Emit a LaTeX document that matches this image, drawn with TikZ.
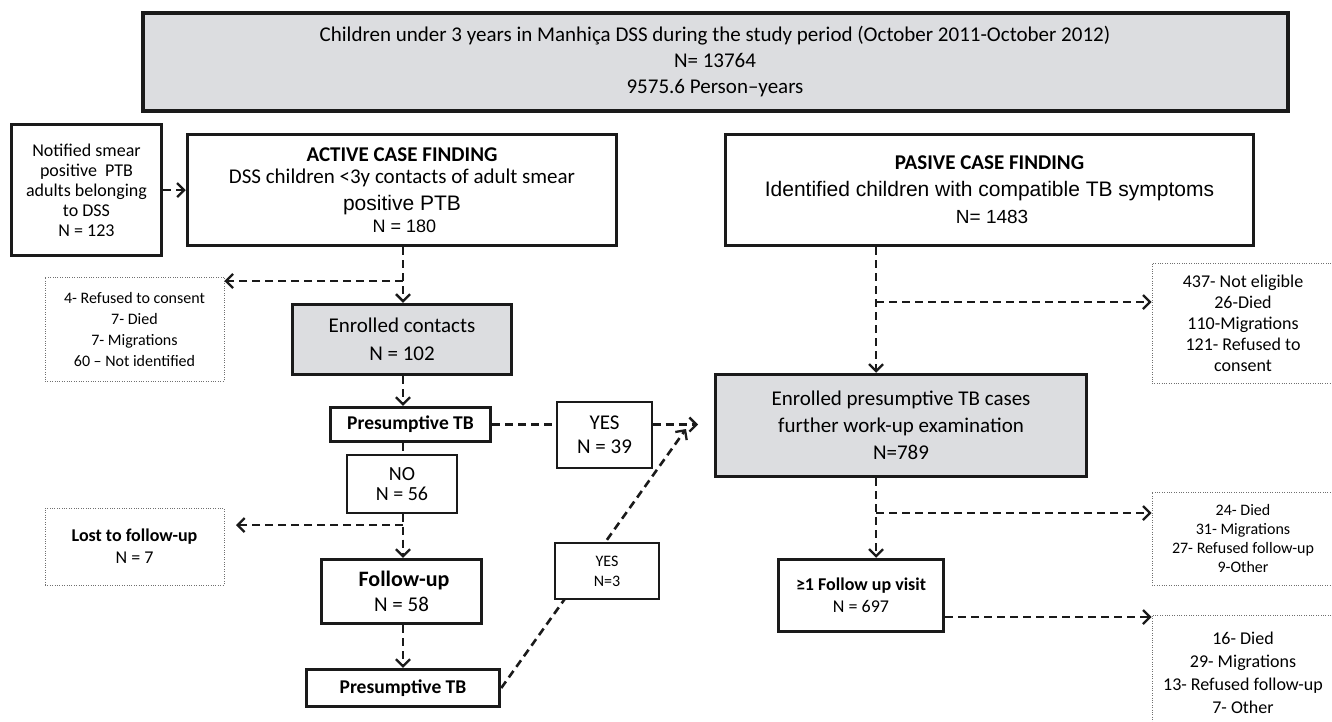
\documentclass[tikz,border=0pt]{standalone}
\usepackage{fontspec}
\setmainfont{Carlito}
\newfontfamily\ari{Liberation Sans}
\usetikzlibrary{arrows.meta}
\definecolor{boxgray}{HTML}{DCDDE0}
\definecolor{ink}{HTML}{1A1A1A}
\definecolor{dotc}{HTML}{707070}
\newcommand{\fs}[2]{\fontsize{#1}{#2}\selectfont}
\begin{document}
\begin{tikzpicture}[x=1pt,y=-1pt,
  heavybox/.style={draw=ink, line width=3.5pt, rectangle, align=center, inner sep=0pt, fill=white},
  thinbox/.style={draw=ink, line width=1.2pt, rectangle, align=center, inner sep=0pt, fill=white},
  dotbox/.style={draw=dotc, line width=0.8pt, dash pattern=on 0.8pt off 1.6pt, rectangle, align=center, inner sep=0pt, fill=white},
  dline/.style={draw=ink, line width=2.6pt, dash pattern=on 8pt off 5pt},
  darrow/.style={dline, -{Straight Barb[length=7pt,width=14pt,line width=2.3pt]}},
]
\clip (0,0) rectangle (1332,721);
\fill[white] (0,0) rectangle (1332,721);

% ---------- nodes ----------
\node[heavybox, fill=boxgray, line width=4pt, minimum width=1145pt, minimum height=98pt, font=\fs{21}{26}] (top) at (715,62)
  {Children under 3 years in Manhiça DSS during the study period (October 2011-October 2012)\\N= 13764\\9575.6 Person–years};

\node[heavybox, minimum width=150pt, minimum height=131pt, font=\fs{18}{20}] (notif) at (86.5,190)
  {Notified smear\\positive\ \ PTB\\adults belonging\\to DSS\\N = 123};

\node[heavybox, minimum width=429pt, minimum height=111pt, font=\fs{21}{22}] (act) at (402,190)
  {{\bfseries ACTIVE CASE FINDING}\\DSS children <3y contacts of adult smear\\[5pt]{\ari positive PTB}\\{\ari\fs{18}{22} N = 180}};

\node[heavybox, minimum width=528pt, minimum height=111pt, font=\fs{21}{27}] (pas) at (989.5,190)
  {{\bfseries PASIVE CASE FINDING}\\{\ari Identified children with compatible TB symptoms}\\{\ari\fs{19}{26} N= 1483}};

\node[dotbox, minimum width=179pt, minimum height=104pt, font=\fs{16}{21}] (ex1) at (134.5,329)
  {4- Refused to consent\\7- Died\\7- Migrations\\60 – Not identified};

\node[heavybox, fill=boxgray, minimum width=219pt, minimum height=70pt, font=\fs{21}{28}] (enc) at (402,339.5)
  {Enrolled contacts\\N = 102};

\node[heavybox, minimum width=160pt, minimum height=34pt, font=\bfseries\fs{19.5}{22}] (ptb1) at (410.5,424.5)
  {Presumptive TB};

\node[thinbox, minimum width=95pt, minimum height=66pt, font=\fs{21}{24}] (yes39) at (604.5,435)
  {YES\\N = 39};

\node[thinbox, minimum width=110pt, minimum height=58pt, font=\fs{20}{20}] (no56) at (402,484)
  {NO\\N = 56};

\node[dotbox, minimum width=179pt, minimum height=77pt, font=\fs{18}{22}] (lost) at (134.5,546.5)
  {{\bfseries Lost to follow-up}\\N = 7};

\node[heavybox, minimum width=160pt, minimum height=64pt, font=\fs{21}{25}] (fu) at (401.5,591.5)
  {{\bfseries\fs{22}{25} Follow-up}\\N = 58};

\node[heavybox, minimum width=193pt, minimum height=37pt, font=\bfseries\fs{19.5}{22}] (ptb2) at (403,688)
  {Presumptive TB};

\node[heavybox, fill=boxgray, minimum width=371pt, minimum height=102pt, font=\fs{21}{27}] (enp) at (901,425.5)
  {Enrolled presumptive TB cases\\further work-up examination\\N=789};

\node[heavybox, minimum width=165pt, minimum height=72pt, font=\fs{18}{22}] (fuv) at (861,595.5)
  {{\bfseries ≥1 Follow up visit}\\N = 697};

\node[dotbox, minimum width=182pt, minimum height=120pt, font=\fs{18}{21}] (exr1) at (1243,323)
  {437- Not eligible\\26-Died\\110-Migrations\\121- Refused to\\consent};

\node[dotbox, minimum width=182pt, minimum height=93pt, font=\fs{16}{19}] (exr2) at (1243,538.5)
  {24- Died\\31- Migrations\\27- Refused follow-up\\9-Other};

\node[dotbox, minimum width=182pt, minimum height=115pt, font=\fs{18}{23}] (exr3) at (1243,672.5)
  {16- Died\\29- Migrations\\13- Refused follow-up\\7- Other};

% ---------- connectors ----------
\coordinate (xl) at (403,0);
\coordinate (xr) at (876,0);

\draw[darrow] (notif.east) -- (act.west);

\draw[darrow] (act.south -| xl) -- (enc.north -| xl);
\coordinate (bl1) at (403,281);
\draw[darrow] (bl1) -- (bl1 -| ex1.east);

\draw[darrow] (enc.south -| xl) -- (ptb1.north -| xl);
\draw[dline] (ptb1.south -| xl) -- (no56.north -| xl);

\draw[dline] (ptb1.east) -- (ptb1.east -| yes39.west);
\coordinate (tipA) at (698,424.5);
\draw[darrow] (ptb1.east -| yes39.east) -- (tipA);

\draw[darrow] (no56.south -| xl) -- (fu.north -| xl);
\coordinate (bl2) at (403,525);
\coordinate (tipL) at (236,525);
\draw[darrow] (bl2) -- (tipL);

\draw[darrow] (fu.south -| xl) -- (ptb2.north -| xl);

\coordinate (tipB) at (686,429);
\draw[darrow] (ptb2.east) -- (tipB);
\node[thinbox, minimum width=104pt, minimum height=56pt, font=\fs{16}{20}] (yes3) at (607,571)
  {YES\\N=3};

\draw[darrow] (pas.south -| xr) -- (enp.north -| xr);
\coordinate (br1) at (876,302);
\draw[darrow] (br1) -- (br1 -| exr1.west);

\draw[darrow] (enp.south -| xr) -- (fuv.north -| xr);
\coordinate (br2) at (876,513);
\draw[darrow] (br2) -- (br2 -| exr2.west);

\coordinate (br3) at (0,617);
\draw[darrow] (fuv.east |- br3) -- (br3 -| exr3.west);
\end{tikzpicture}
\end{document}
